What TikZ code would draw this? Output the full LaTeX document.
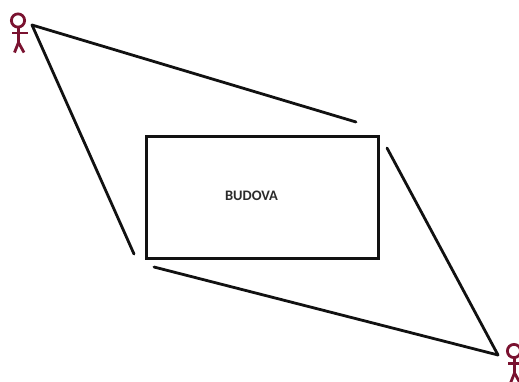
\documentclass[tikz,border=0pt]{standalone}
\usepackage{fontspec}
\setmainfont{Carlito}
\definecolor{personcolor}{HTML}{7A1230}
\definecolor{darkline}{HTML}{111111}
\definecolor{labeltext}{HTML}{2B2B2B}
\tikzset{
  building/.style={rectangle, draw=darkline, line width=3pt, minimum width=232pt,
                   minimum height=122pt, inner sep=0pt},
  buildtitle/.style={font=\fontsize{14.5}{16}\selectfont\bfseries, text=labeltext},
  walk/.style={draw=darkline, line width=2.8pt, line cap=round},
  person/.pic={
    \draw[personcolor, line width=2.8pt] (0,0) circle (6.6pt);
    \draw[personcolor, line width=2.8pt] (0.5,7) -- (0.5,22) -- (-3.5,32);
    \draw[personcolor, line width=2.8pt] (0.5,22) -- (6,32);
    \draw[personcolor, line width=2.8pt] (-6,12.5) -- (10,12.5);
  },
}

\begin{document}
\begin{tikzpicture}[x=1pt, y=-1pt]
\useasboundingbox (0,0) rectangle (519,381);
\clip (0,0) rectangle (519,381);

% Building in the middle
\node[building] (budova) at (262,197) {};
\node[buildtitle] (budovatitle) at (251.5,196) {BUDOVA};

% Two people at opposite corners
\pic at (18,20.5) {person};
\pic at (514,351) {person};

% Ends of the paths
\coordinate (topleft) at (32,25);
\coordinate (botright) at (498,355);
\coordinate (topend) at (356,122);
\coordinate (leftend) at (134,254);
\coordinate (botstart) at (154,267);
\coordinate (rightstart) at (387,148);

% Paths round the building
\draw[walk] (topleft) -- (topend);
\draw[walk] (topleft) -- (leftend);
\draw[walk] (botstart) -- (botright);
\draw[walk] (rightstart) -- (botright);

\end{tikzpicture}
\end{document}
